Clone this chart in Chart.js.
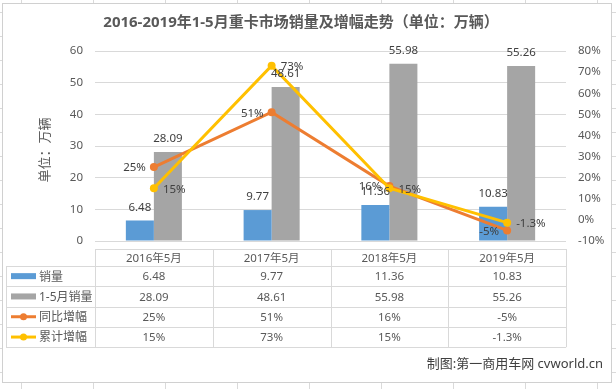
<!DOCTYPE html>
<html>
<head>
<meta charset="utf-8">
<script src="https://cdn.jsdelivr.net/npm/chart.js@4"></script>
<style>
  html, body { margin: 0; padding: 0; background: #fff; }
  canvas { display: block; }
</style>
</head>
<body>
<canvas id="truckChart" width="616" height="389"></canvas>
<script>
// values
var categories = ['2016年5月', '2017年5月', '2018年5月', '2019年5月'];
var salesMay = [6.48, 9.77, 11.36, 10.83];          // 销量
var salesJanMay = [28.09, 48.61, 55.98, 55.26];     // 1-5月销量
var yoyGrowth = [25, 51, 16, -5];                   // 同比增幅 (%)
var cumGrowth = [15, 73, 15, -1.3];                 // 累计增幅 (%)
var seriesNames = ['销量', '1-5月销量', '同比增幅', '累计增幅'];

var titleText = '2016-2019年1-5月重卡市场销量及增幅走势（单位：万辆）';
var axisTitle = '单位：万辆';
var footerText = '制图:第一商用车网 cvworld.cn';

var BLUE = '#5B9BD5', GRAY = '#A5A5A5', ORANGE = '#ED7D31', YELLOW = '#FFC000';
var TEXT = '#595959';
var CJK = '"Noto Sans", "Noto Sans CJK SC", sans-serif';

// which side of the point each line label sits on
var yoySide = ['left', 'left', 'left', 'left'];
var cumSide = ['right', 'right', 'right', 'right'];

// excel sheet + chart frame behind everything
var backdrop = {
  id: 'backdrop',
  beforeDraw: function (chart) {
    var c = chart.ctx;
    c.save();
    c.fillStyle = '#fff';
    c.fillRect(0, 0, chart.width, chart.height);
    c.strokeStyle = '#dadada';
    c.lineWidth = 1;
    for (var x = 21; x < chart.width; x += 72) {
      c.beginPath(); c.moveTo(x + 0.5, 0); c.lineTo(x + 0.5, chart.height); c.stroke();
    }
    for (var y = 12; y < chart.height; y += 24) {
      c.beginPath(); c.moveTo(0, y + 0.5); c.lineTo(chart.width, y + 0.5); c.stroke();
    }
    c.fillStyle = '#fff';
    c.fillRect(2, 3, 610, 380);
    c.strokeStyle = '#d0d0d0';
    c.strokeRect(2.5, 3.5, 609, 379);
    c.restore();
  }
};

// title, axis title, data labels, data table, footer
var extras = {
  id: 'extras',
  afterDraw: function (chart) {
    var c = chart.ctx;
    var area = chart.chartArea;
    var xs = chart.scales.x;
    c.save();

    c.fillStyle = TEXT;
    c.font = 'bold 15px ' + CJK;
    c.textAlign = 'center';
    c.textBaseline = 'middle';
    c.fillText(titleText, 301, 23);

    c.save();
    c.translate(45, 150);
    c.rotate(-Math.PI / 2);
    c.font = '13px ' + CJK;
    c.fillText(axisTitle, 0, 0);
    c.restore();

    // bar labels
    c.font = '11.5px ' + CJK;
    c.fillStyle = '#404040';
    [0, 1].forEach(function (di) {
      var meta = chart.getDatasetMeta(di);
      meta.data.forEach(function (bar, i) {
        c.textAlign = 'center';
        c.fillText(chart.data.datasets[di].data[i].toFixed(2), bar.x, bar.y - 13);
      });
    });
    // line labels
    [[2, yoySide], [3, cumSide]].forEach(function (pair) {
      var di = pair[0], sides = pair[1];
      var meta = chart.getDatasetMeta(di);
      meta.data.forEach(function (pt, i) {
        var txt = chart.data.datasets[di].data[i] + '%';
        if (sides[i] === 'left') {
          c.textAlign = 'right';
          c.fillText(txt, pt.x - 8, pt.y + 1);
        } else {
          c.textAlign = 'left';
          c.fillText(txt, pt.x + 9, pt.y + 1);
        }
      });
    });

    // data table
    var half = (area.right - area.left) / categories.length / 2;
    var headTop = 249, rowH = 20.3, rowsTop = 266;
    var tableBottom = rowsTop + rowH * 4;
    c.strokeStyle = '#d9d9d9';
    c.lineWidth = 1;
    // horizontal lines
    c.beginPath();
    c.moveTo(area.left, headTop + 0.5); c.lineTo(area.right, headTop + 0.5);
    for (var r = 0; r <= 4; r++) {
      var yy = Math.round(rowsTop + r * rowH) + 0.5;
      c.moveTo(6, yy); c.lineTo(area.right, yy);
    }
    // vertical lines
    c.moveTo(6.5, rowsTop); c.lineTo(6.5, tableBottom);
    for (var k = 0; k <= categories.length; k++) {
      var vx = Math.round(area.left + k * half * 2) + 0.5;
      c.moveTo(vx, headTop); c.lineTo(vx, tableBottom);
    }
    c.stroke();

    var rowsData = [salesMay, salesJanMay, yoyGrowth, cumGrowth];
    c.fillStyle = TEXT;
    c.font = '11.5px ' + CJK;
    c.textAlign = 'center';
    categories.forEach(function (cat, i) {
      var cx = xs.getPixelForTick(i);
      c.fillText(cat, cx, (headTop + rowsTop) / 2 + 1);
      rowsData.forEach(function (vals, r) {
        var cy = rowsTop + rowH * r + rowH / 2 + 1;
        var txt = r < 2 ? vals[i].toFixed(2) : vals[i] + '%';
        c.fillText(txt, cx, cy);
      });
    });

    // legend keys in the first column
    var keyColors = [BLUE, GRAY, ORANGE, YELLOW];
    seriesNames.forEach(function (name, r) {
      var cy = rowsTop + rowH * r + rowH / 2;
      if (r < 2) {
        c.fillStyle = keyColors[r];
        c.fillRect(11, cy - 3, 25, 6);
      } else {
        c.strokeStyle = keyColors[r];
        c.lineWidth = 3;
        c.beginPath(); c.moveTo(11, cy); c.lineTo(36, cy); c.stroke();
        c.fillStyle = keyColors[r];
        c.beginPath(); c.arc(23.5, cy, 3.5, 0, Math.PI * 2); c.fill();
      }
      c.fillStyle = TEXT;
      c.font = '12px ' + CJK;
      c.textAlign = 'left';
      c.fillText(name, 39, cy + 1);
    });

    c.fillStyle = '#404040';
    c.font = '13px ' + CJK;
    c.textAlign = 'right';
    c.fillText(footerText, 603, 364);
    c.restore();
  }
};

var ctx = document.getElementById('truckChart').getContext('2d');
var truckChart = new Chart(ctx, {
  type: 'bar',
  data: {
    labels: categories,
    datasets: [
      { label: seriesNames[0], data: salesMay, backgroundColor: BLUE, yAxisID: 'y', order: 3 },
      { label: seriesNames[1], data: salesJanMay, backgroundColor: GRAY, yAxisID: 'y', order: 3 },
      {
        type: 'line', label: seriesNames[2], data: yoyGrowth, yAxisID: 'y1', order: 1,
        borderColor: ORANGE, backgroundColor: ORANGE, borderWidth: 3,
        pointRadius: 4, pointBorderWidth: 0, tension: 0
      },
      {
        type: 'line', label: seriesNames[3], data: cumGrowth, yAxisID: 'y1', order: 0,
        borderColor: YELLOW, backgroundColor: YELLOW, borderWidth: 3,
        pointRadius: 4, pointBorderWidth: 0, tension: 0
      }
    ]
  },
  options: {
    responsive: false,
    animation: false,
    devicePixelRatio: 1,
    categoryPercentage: 0.476,
    barPercentage: 1,
    layout: { padding: { top: 51, left: 0, right: 0, bottom: 0 } },
    plugins: {
      legend: { display: false },
      title: { display: false },
      tooltip: { enabled: false }
    },
    scales: {
      x: {
        grid: { display: false },
        border: { display: false },
        ticks: { display: false },
        afterFit: function (s) { s.height = 148; }
      },
      y: {
        position: 'left',
        min: 0,
        max: 60,
        ticks: { stepSize: 10, color: TEXT, padding: 12, font: { size: 11.5, family: CJK } },
        grid: { color: '#d9d9d9', drawTicks: false },
        border: { display: false },
        afterFit: function (s) { s.width = 95; }
      },
      y1: {
        position: 'right',
        min: -10,
        max: 80,
        ticks: {
          stepSize: 10, color: TEXT, padding: 12, font: { size: 11.5, family: CJK },
          callback: function (v) { return v + '%'; }
        },
        grid: { display: false, drawTicks: false },
        border: { display: false },
        afterFit: function (s) { s.width = 50; }
      }
    }
  },
  plugins: [backdrop, extras]
});
</script>
</body>
</html>
